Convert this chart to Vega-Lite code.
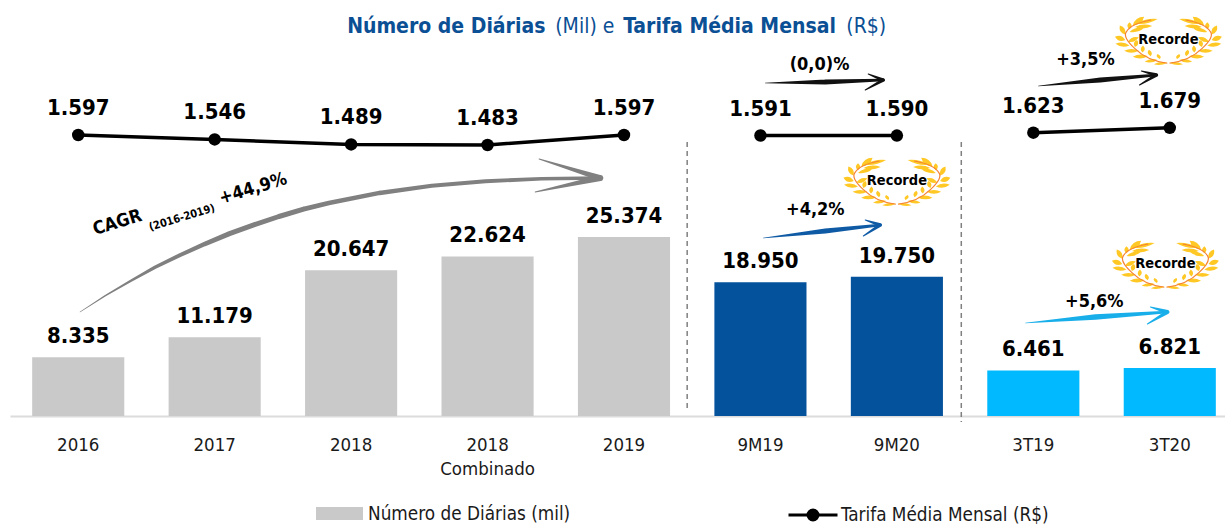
{
"$schema":"https://vega.github.io/schema/vega-lite/v6.json",
"width":1225,"height":416,"autosize":"none",
"padding":{"left":0,"top":0,"right":0,"bottom":108},
"background":"white",
"config":{"font":"DejaVu Sans Condensed","view":{"stroke":null},"locale":{"number":{"decimal":",","thousands":".","grouping":[3],"currency":["R$ ",""]}}},
"datasets":{
"dados":[
{"periodo":"2016","grupo":"Número de Diárias (mil)","bloco":"anual","diarias":8335,"tarifa":1597},
{"periodo":"2017","grupo":"Número de Diárias (mil)","bloco":"anual","diarias":11179,"tarifa":1546},
{"periodo":"2018","grupo":"Número de Diárias (mil)","bloco":"anual","diarias":20647,"tarifa":1489},
{"periodo":"2018 Combinado","grupo":"Número de Diárias (mil)","bloco":"anual","diarias":22624,"tarifa":1483},
{"periodo":"2019","grupo":"Número de Diárias (mil)","bloco":"anual","diarias":25374,"tarifa":1597},
{"periodo":"9M19","grupo":"9M","bloco":"9M","diarias":18950,"tarifa":1591},
{"periodo":"9M20","grupo":"9M","bloco":"9M","diarias":19750,"tarifa":1590},
{"periodo":"3T19","grupo":"3T","bloco":"3T","diarias":6461,"tarifa":1623},
{"periodo":"3T20","grupo":"3T","bloco":"3T","diarias":6821,"tarifa":1679}
],
"setas":[
{"seta":"cagr","parte":"haste","o":1,"x":0.013,"y":14741,"e":0.5},
{"seta":"cagr","parte":"haste","o":2,"x":0.199,"y":17066,"e":1.5},
{"seta":"cagr","parte":"haste","o":3,"x":0.383,"y":19135,"e":2.5},
{"seta":"cagr","parte":"haste","o":4,"x":0.563,"y":21077,"e":3.5},
{"seta":"cagr","parte":"haste","o":5,"x":0.748,"y":22820,"e":4},
{"seta":"cagr","parte":"haste","o":6,"x":0.93,"y":24408,"e":4.5},
{"seta":"cagr","parte":"haste","o":7,"x":1.109,"y":25853,"e":5},
{"seta":"cagr","parte":"haste","o":8,"x":1.292,"y":27115,"e":5},
{"seta":"cagr","parte":"haste","o":9,"x":1.471,"y":28277,"e":5},
{"seta":"cagr","parte":"haste","o":10,"x":1.652,"y":29326,"e":5},
{"seta":"cagr","parte":"haste","o":11,"x":1.837,"y":30191,"e":4.5},
{"seta":"cagr","parte":"haste","o":12,"x":2.209,"y":31622,"e":4.5},
{"seta":"cagr","parte":"haste","o":13,"x":2.591,"y":32643,"e":4},
{"seta":"cagr","parte":"haste","o":14,"x":2.985,"y":33281,"e":4},
{"seta":"cagr","parte":"haste","o":15,"x":3.396,"y":33621,"e":3.5},
{"seta":"cagr","parte":"haste","o":16,"x":3.826,"y":33734,"e":3.5},
{"seta":"cagr","parte":"ponta","o":1,"x":3.378,"y":36427,"e":1},
{"seta":"cagr","parte":"ponta","o":2,"x":3.826,"y":33734,"e":6},
{"seta":"cagr","parte":"ponta","o":3,"x":3.349,"y":31750,"e":1},
{"seta":"tarifa9M","parte":"haste","o":1,"x":5.035,"y":47199,"e":0.5},
{"seta":"tarifa9M","parte":"haste","o":2,"x":5.475,"y":47341,"e":5},
{"seta":"tarifa9M","parte":"haste","o":3,"x":5.9,"y":47625,"e":2.5},
{"seta":"tarifa9M","parte":"ponta","o":1,"x":5.79,"y":48475,"e":1},
{"seta":"tarifa9M","parte":"ponta","o":2,"x":5.9,"y":47625,"e":3.5},
{"seta":"tarifa9M","parte":"ponta","o":3,"x":5.768,"y":46207,"e":1},
{"seta":"diarias9M","parte":"haste","o":1,"x":5.021,"y":25230,"e":0.5},
{"seta":"diarias9M","parte":"haste","o":2,"x":5.475,"y":26222,"e":5},
{"seta":"diarias9M","parte":"haste","o":3,"x":5.878,"y":27072,"e":2.5},
{"seta":"diarias9M","parte":"ponta","o":1,"x":5.768,"y":27781,"e":1},
{"seta":"diarias9M","parte":"ponta","o":2,"x":5.878,"y":27072,"e":3.5},
{"seta":"diarias9M","parte":"ponta","o":3,"x":5.754,"y":25513,"e":1},
{"seta":"tarifa3T","parte":"haste","o":1,"x":7.037,"y":46774,"e":0.5},
{"seta":"tarifa3T","parte":"haste","o":2,"x":7.491,"y":47625,"e":5},
{"seta":"tarifa3T","parte":"haste","o":3,"x":7.902,"y":48333,"e":2.5},
{"seta":"tarifa3T","parte":"ponta","o":1,"x":7.792,"y":48900,"e":1},
{"seta":"tarifa3T","parte":"ponta","o":2,"x":7.902,"y":48333,"e":3.5},
{"seta":"tarifa3T","parte":"ponta","o":3,"x":7.778,"y":46916,"e":1},
{"seta":"diarias3T","parte":"haste","o":1,"x":6.942,"y":13182,"e":0.5},
{"seta":"diarias3T","parte":"haste","o":2,"x":7.455,"y":14032,"e":5.5},
{"seta":"diarias3T","parte":"haste","o":3,"x":7.983,"y":14741,"e":2.5},
{"seta":"diarias3T","parte":"ponta","o":1,"x":7.858,"y":15450,"e":1},
{"seta":"diarias3T","parte":"ponta","o":2,"x":7.983,"y":14741,"e":4},
{"seta":"diarias3T","parte":"ponta","o":3,"x":7.836,"y":13040,"e":1}
],
"recordes":[
{"x":6.0,"y":33309,"texto":"Recorde"},
{"x":7.99,"y":53294,"texto":"Recorde"},
{"x":7.968,"y":21544,"texto":"Recorde"}
]
},
"resolve":{"scale":{"x":"independent","y":"independent","color":"independent"},"legend":{"color":"independent"},"axis":{"x":"independent","y":"independent"}},
"layer":[
{"data":{"name":"dados"},"mark":{"type":"bar"},
 "encoding":{
  "x":{"field":"periodo","type":"nominal","sort":null,
   "scale":{"type":"band","domain":["2016","2017","2018","2018 Combinado","2019","9M19","9M20","3T19","3T20"],"range":[10,1238],"paddingInner":0.325,"paddingOuter":0.1625},
   "axis":{"title":null,"orient":"bottom","labelAngle":0,"ticks":false,"grid":false,"domainColor":"#dcdcdc","domainWidth":2,"labelFontSize":18.5,"labelColor":"#1a1a1a","labelPadding":19,"labelLineHeight":24,"labelOverlap":false,"labelExpr":"datum.value == '2018 Combinado' ? ['2018','Combinado'] : datum.value"}},
  "y":{"field":"diarias","type":"quantitative","scale":{"domain":[0,58965]},"axis":null},
  "color":{"field":"grupo","type":"nominal","scale":{"domain":["Número de Diárias (mil)","9M","3T"],"range":["#c9c9c9","#05529c","#00b9ff"]},
   "legend":{"orient":"none","legendX":316,"legendY":490,"title":null,"values":["Número de Diárias (mil)"],"symbolType":"M-1,-0.277H1V0.277H-1Z","symbolSize":2209,"labelFontSize":18.8,"labelLimit":400,"labelColor":"#1a1a1a","labelOffset":5,"padding":0,"symbolStrokeWidth":0,"encode":{"symbols":{"enter":{"fill":{"value":"#b2b2b2"}},"update":{"fill":{"value":"#b2b2b2"}}}}}}
 }},
{"data":{"name":"dados"},"mark":{"type":"text","fontSize":22,"fontWeight":"bold","baseline":"alphabetic","dy":-14,"color":"#000000"},
 "encoding":{
  "x":{"field":"periodo","type":"nominal","sort":null,"scale":{"type":"band","domain":["2016","2017","2018","2018 Combinado","2019","9M19","9M20","3T19","3T20"],"range":[10,1238],"paddingInner":0.325,"paddingOuter":0.1625},"axis":null},
  "y":{"field":"diarias","type":"quantitative","scale":{"domain":[0,58965]},"axis":null},
  "text":{"field":"diarias","type":"quantitative","format":",.0f"}
 }},
{"data":{"name":"dados"},"mark":{"type":"line","strokeWidth":3.5},
 "encoding":{
  "x":{"field":"periodo","type":"nominal","sort":null,"scale":{"type":"band","domain":["2016","2017","2018","2018 Combinado","2019","9M19","9M20","3T19","3T20"],"range":[10,1238],"paddingInner":0.325,"paddingOuter":0.1625},"axis":null},
  "y":{"field":"tarifa","type":"quantitative","scale":{"domain":[-1607,3136]},"axis":null},
  "detail":{"field":"bloco"},
  "color":{"datum":"Tarifa Média Mensal (R$)","scale":{"range":["#000000"]},
   "legend":{"orient":"none","legendX":787,"legendY":489,"title":null,"symbolType":"M-1,0H1M-0.204,0A0.204,0.204 0 1,1 0.204,0A0.204,0.204 0 1,1 -0.204,0Z","symbolSize":2401,"symbolStrokeWidth":3,"labelFontSize":18.8,"labelLimit":400,"labelColor":"#1a1a1a","labelOffset":2,"padding":0,"encode":{"symbols":{"update":{"fill":{"value":"#000000"},"stroke":{"value":"#000000"}}}}}}
 }},
{"data":{"name":"dados"},"mark":{"type":"point","filled":true,"size":155,"opacity":1,"color":"#000000"},
 "encoding":{
  "x":{"field":"periodo","type":"nominal","sort":null,"scale":{"type":"band","domain":["2016","2017","2018","2018 Combinado","2019","9M19","9M20","3T19","3T20"],"range":[10,1238],"paddingInner":0.325,"paddingOuter":0.1625},"axis":null},
  "y":{"field":"tarifa","type":"quantitative","scale":{"domain":[-1607,3136]},"axis":null}
 }},
{"data":{"name":"dados"},"mark":{"type":"text","fontSize":22,"fontWeight":"bold","baseline":"alphabetic","dy":-20,"color":"#000000"},
 "encoding":{
  "x":{"field":"periodo","type":"nominal","sort":null,"scale":{"type":"band","domain":["2016","2017","2018","2018 Combinado","2019","9M19","9M20","3T19","3T20"],"range":[10,1238],"paddingInner":0.325,"paddingOuter":0.1625},"axis":null},
  "y":{"field":"tarifa","type":"quantitative","scale":{"domain":[-1607,3136]},"axis":null},
  "text":{"field":"tarifa","type":"quantitative","format":",.0f"}
 }},
{"data":{"values":[{"x":4.463,"y":38837,"y2":709},{"x":6.472,"y":38837,"y2":-850}]},
 "mark":{"type":"rule","color":"#808080","strokeWidth":1.5,"strokeDash":[5,4]},
 "encoding":{
  "x":{"field":"x","type":"quantitative","scale":{"domain":[-0.5,8.5],"range":[10,1238]},"axis":null},
  "y":{"field":"y","type":"quantitative","scale":{"domain":[0,58965]},"axis":null},
  "y2":{"field":"y2"}
 }},
{"data":{"name":"setas"},"mark":{"type":"trail"},
 "encoding":{
  "x":{"field":"x","type":"quantitative","scale":{"domain":[-0.5,8.5],"range":[10,1238]},"axis":null},
  "y":{"field":"y","type":"quantitative","scale":{"domain":[0,58965]},"axis":null},
  "size":{"field":"e","type":"quantitative","scale":null,"legend":null},
  "order":{"field":"o","type":"quantitative"},
  "detail":{"field":"parte"},
  "color":{"field":"seta","type":"nominal","legend":null,"scale":{"domain":["cagr","tarifa9M","diarias9M","tarifa3T","diarias3T"],"range":["#808080","#111111","#0f5aa5","#111111","#18aeea"]}}
 }},
{"data":{"name":"recordes"},"mark":{"type":"point","filled":true,"opacity":1,"size":11664,"color":"#ffc825","strokeWidth":0,
  "shape":"M-.6,-.3Q-.385,-.277 -.2,-.39Q-.415,-.413 -.6,-.3ZM-.66,-.27Q-.494,-.27 -.45,-.43Q-.616,-.43 -.66,-.27ZM-.72,-.2Q-.64,-.265 -.72,-.33Q-.8,-.265 -.72,-.2ZM-.62,-.24Q-.456,-.18 -.3,-.26Q-.464,-.32 -.62,-.24ZM-.8,-.1Q-.773,-.231 -.9,-.27Q-.927,-.139 -.8,-.1ZM-.72,-.15Q-.561,-.123 -.44,-.23Q-.599,-.257 -.72,-.15ZM-.8,0Q-.868,-.116 -.99,-.06Q-.922,.056 -.8,0ZM-.75,.03Q-.62,.064 -.55,-.05Q-.68,-.084 -.75,.03ZM-.72,.1Q-.841,.006 -.98,.07Q-.859,.164 -.72,.1ZM-.62,.13Q-.523,.088 -.58,0Q-.677,.042 -.62,.13ZM-.55,.2Q-.685,.13 -.82,.2Q-.685,.27 -.55,.2ZM-.48,.23Q-.4,.165 -.47,.1Q-.55,.165 -.48,.23ZM-.38,.3Q-.52,.235 -.66,.31Q-.52,.375 -.38,.3ZM-.33,.3Q-.27,.24 -.36,.18Q-.42,.24 -.33,.3ZM-.2,.37Q-.32,.325 -.44,.4Q-.32,.445 -.2,.37ZM-.16,.35Q-.11,.305 -.2,.26Q-.25,.305 -.16,.35ZM-.02,.42Q-.145,.38 -.27,.45Q-.145,.49 -.02,.42ZM.6,-.3Q.385,-.277 .2,-.39Q.415,-.413 .6,-.3ZM.66,-.27Q.494,-.27 .45,-.43Q.616,-.43 .66,-.27ZM.72,-.2Q.64,-.265 .72,-.33Q.8,-.265 .72,-.2ZM.62,-.24Q.456,-.18 .3,-.26Q.464,-.32 .62,-.24ZM.8,-.1Q.773,-.231 .9,-.27Q.927,-.139 .8,-.1ZM.72,-.15Q.561,-.123 .44,-.23Q.599,-.257 .72,-.15ZM.8,0Q.868,-.116 .99,-.06Q.922,.056 .8,0ZM.75,.03Q.62,.064 .55,-.05Q.68,-.084 .75,.03ZM.72,.1Q.841,.006 .98,.07Q.859,.164 .72,.1ZM.62,.13Q.523,.088 .58,0Q.677,.042 .62,.13ZM.55,.2Q.685,.13 .82,.2Q.685,.27 .55,.2ZM.48,.23Q.4,.165 .47,.1Q.55,.165 .48,.23ZM.38,.3Q.52,.235 .66,.31Q.52,.375 .38,.3ZM.33,.3Q.27,.24 .36,.18Q.42,.24 .33,.3ZM.2,.37Q.32,.325 .44,.4Q.32,.445 .2,.37ZM.16,.35Q.11,.305 .2,.26Q.25,.305 .16,.35ZM.02,.42Q.145,.38 .27,.45Q.145,.49 .02,.42Z"},
 "encoding":{
  "x":{"field":"x","type":"quantitative","scale":{"domain":[-0.5,8.5],"range":[10,1238]},"axis":null},
  "y":{"field":"y","type":"quantitative","scale":{"domain":[0,58965]},"axis":null}
 }},
{"data":{"name":"recordes"},"mark":{"type":"point","filled":false,"opacity":1,"size":11664,"stroke":"#f58233","strokeWidth":1.2,"fill":null,
  "shape":"M-.02,.43Q-.4,.38 -.62,.16Q-.85,-.05 -.78,-.15Q-.7,-.3 -.32,-.37M.02,.43Q.4,.38 .62,.16Q.85,-.05 .78,-.15Q.7,-.3 .32,-.37"},
 "encoding":{
  "x":{"field":"x","type":"quantitative","scale":{"domain":[-0.5,8.5],"range":[10,1238]},"axis":null},
  "y":{"field":"y","type":"quantitative","scale":{"domain":[0,58965]},"axis":null}
 }},
{"data":{"name":"recordes"},"mark":{"type":"text","fontSize":14.5,"fontWeight":"bold","baseline":"middle","color":"#000000"},
 "encoding":{
  "x":{"field":"x","type":"quantitative","scale":{"domain":[-0.5,8.5],"range":[10,1238]},"axis":null},
  "y":{"field":"y","type":"quantitative","scale":{"domain":[0,58965]},"axis":null},
  "text":{"field":"texto"}
 }},
{"data":{"values":[
  {"x":5.402,"y":29198,"texto":"+4,2%"},
  {"x":5.433,"y":49751,"texto":"(0,0)%"},
  {"x":7.382,"y":50459,"texto":"+3,5%"},
  {"x":7.447,"y":16158,"texto":"+5,6%"}
 ]},"mark":{"type":"text","fontSize":18,"fontWeight":"bold","baseline":"middle","color":"#000000"},
 "encoding":{
  "x":{"field":"x","type":"quantitative","scale":{"domain":[-0.5,8.5],"range":[10,1238]},"axis":null},
  "y":{"field":"y","type":"quantitative","scale":{"domain":[0,58965]},"axis":null},
  "text":{"field":"texto"}
 }},
{"data":{"values":[
  {"x":0.288,"y":27356,"texto":"CAGR"},
  {"x":1.282,"y":32175,"texto":"+44,9%"}
 ]},"mark":{"type":"text","fontSize":18,"fontWeight":"bold","baseline":"middle","angle":343,"color":"#000000"},
 "encoding":{
  "x":{"field":"x","type":"quantitative","scale":{"domain":[-0.5,8.5],"range":[10,1238]},"axis":null},
  "y":{"field":"y","type":"quantitative","scale":{"domain":[0,58965]},"axis":null},
  "text":{"field":"texto"}
 }},
{"data":{"values":[{"x":0.761,"y":28065,"texto":"(2016-2019)"}]},"mark":{"type":"text","fontSize":11,"fontWeight":"bold","baseline":"middle","angle":343,"color":"#000000"},
 "encoding":{
  "x":{"field":"x","type":"quantitative","scale":{"domain":[-0.5,8.5],"range":[10,1238]},"axis":null},
  "y":{"field":"y","type":"quantitative","scale":{"domain":[0,58965]},"axis":null},
  "text":{"field":"texto"}
 }},
{"data":{"values":[
  {"x":1.971,"y":55137,"texto":"Número de Diárias"},
  {"x":3.994,"y":55137,"texto":"Tarifa Média Mensal"}
 ]},"mark":{"type":"text","fontSize":21,"fontWeight":"bold","baseline":"middle","align":"left","color":"#0b4f94"},
 "encoding":{
  "x":{"field":"x","type":"quantitative","scale":{"domain":[-0.5,8.5],"range":[10,1238]},"axis":null},
  "y":{"field":"y","type":"quantitative","scale":{"domain":[0,58965]},"axis":null},
  "text":{"field":"texto"}
 }},
{"data":{"values":[
  {"x":3.496,"y":55137,"texto":"(Mil) e"},
  {"x":5.629,"y":55137,"texto":"(R$)"}
 ]},"mark":{"type":"text","fontSize":21,"baseline":"middle","align":"left","color":"#0b4f94"},
 "encoding":{
  "x":{"field":"x","type":"quantitative","scale":{"domain":[-0.5,8.5],"range":[10,1238]},"axis":null},
  "y":{"field":"y","type":"quantitative","scale":{"domain":[0,58965]},"axis":null},
  "text":{"field":"texto"}
 }}
]
}
